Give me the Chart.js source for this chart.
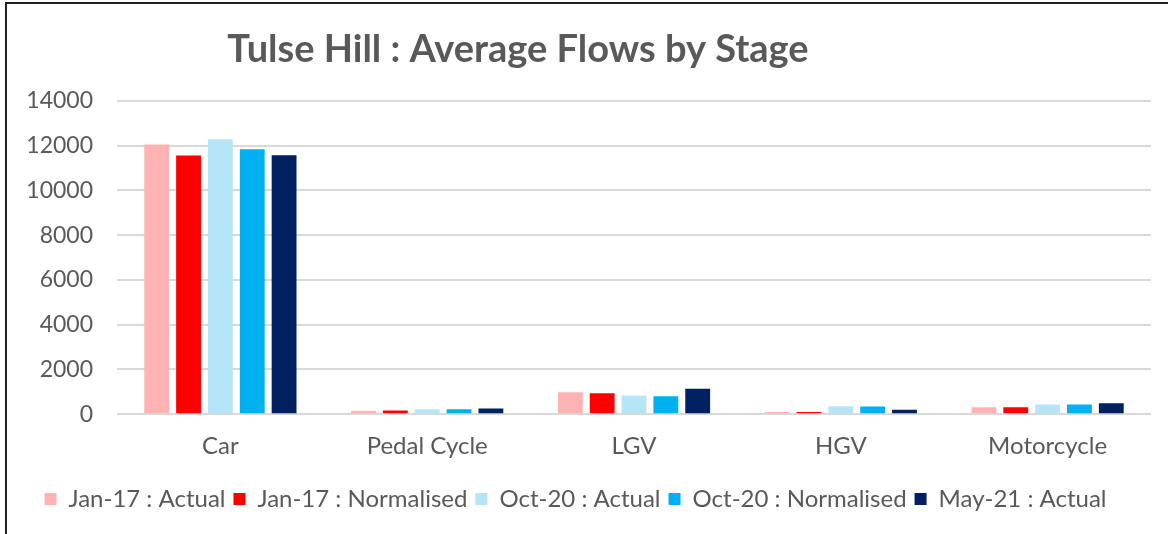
<!DOCTYPE html>
<html>
<head>
<meta charset="utf-8">
<script src="https://cdn.jsdelivr.net/npm/chart.js@4.4.0/dist/chart.umd.min.js"></script>
<style>
  html, body { margin: 0; padding: 0; background: #fff; }
  #wrap { position: relative; width: 1168px; height: 534px; }
  #frame {
    position: absolute; left: 5px; top: 2px; right: -4px; bottom: -4px;
    border-top: 2px solid #222; border-left: 2px solid #222;
    pointer-events: none;
  }
</style>
</head>
<body>
<div id="wrap">
  <canvas id="flowChart" width="1168" height="534"></canvas>
  <div id="frame"></div>
</div>
<script>
// Vehicle classes along the x axis
const categories = ['Car', 'Pedal Cycle', 'LGV', 'HGV', 'Motorcycle'];

// Average flows per survey stage
const jan17Actual     = [12060, 150, 985, 100, 313];
const jan17Normalised = [11560, 165, 940, 100, 313];
const oct20Actual     = [12290, 225, 835, 360, 430];
const oct20Normalised = [11840, 225, 806, 340, 430];
const may21Actual     = [11570, 250, 1135, 195, 492];

const yTicks = [0, 2000, 4000, 6000, 8000, 10000, 12000, 14000];

const seriesNames  = ['Jan-17 : Actual', 'Jan-17 : Normalised', 'Oct-20 : Actual', 'Oct-20 : Normalised', 'May-21 : Actual'];
const seriesValues = [jan17Actual, jan17Normalised, oct20Actual, oct20Normalised, may21Actual];
const seriesColours = ['#FFB3B3', '#FF0000', '#B4E6F8', '#00B0F0', '#002060'];

const TEXT = '#595959';
const FONT = 'Lato, "Open Sans", sans-serif';

// Title drawn by hand so it can sit left of centre
const titlePlugin = {
    id: 'sideTitle',
    afterDraw(chart) {
        const ctx = chart.ctx;
        ctx.save();
        ctx.fillStyle = TEXT;
        ctx.font = 'bold 38px ' + FONT;
        ctx.textAlign = 'center';
        ctx.textBaseline = 'middle';
        ctx.fillText('Tulse Hill : Average Flows by Stage', 518, 50);
        ctx.restore();
    }
};

const ctx = document.getElementById('flowChart').getContext('2d');
new Chart(ctx, {
    type: 'bar',
    data: {
        labels: categories,
        datasets: seriesNames.map((name, i) => ({
            label: name,
            data: seriesValues[i],
            backgroundColor: seriesColours[i],
            borderWidth: 0,
            categoryPercentage: 0.77,
            barPercentage: 0.78
        }))
    },
    options: {
        responsive: false,
        animation: false,
        layout: {
            padding: { left: 0, right: 17, top: 101, bottom: 13 }
        },
        scales: {
            x: {
                grid: { display: false, drawTicks: false },
                border: { display: false },
                ticks: { color: TEXT, font: { family: FONT, size: 24 }, padding: 18 }
            },
            y: {
                min: 0,
                max: 14000,
                afterBuildTicks(scale) {
                    scale.ticks = yTicks.map(v => ({ value: v }));
                },
                afterFit(scale) { scale.width = 117; },
                grid: { color: '#D9D9D9', lineWidth: 2, drawTicks: false },
                border: { display: false },
                ticks: {
                    color: TEXT,
                    font: { family: FONT, size: 23 },
                    padding: 24,
                    callback: v => String(v)
                }
            }
        },
        plugins: {
            legend: {
                position: 'bottom',
                labels: {
                    color: TEXT,
                    font: { family: FONT, size: 24 },
                    boxWidth: 12,
                    boxHeight: 12,
                    padding: 8
                }
            },
            title: { display: false },
            tooltip: { enabled: false }
        }
    },
    plugins: [titlePlugin]
});
</script>
</body>
</html>
